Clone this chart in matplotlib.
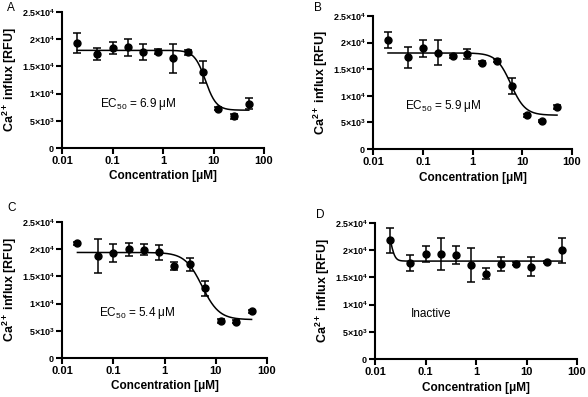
import numpy as np
import matplotlib
matplotlib.use("Agg")
import matplotlib.pyplot as plt
from matplotlib.ticker import FixedLocator, FixedFormatter, NullLocator

plt.rcParams['font.family'] = ['Liberation Sans', 'DejaVu Sans']
plt.rcParams['mathtext.fontset'] = 'custom'
plt.rcParams['mathtext.rm'] = 'Liberation Sans'
plt.rcParams['mathtext.it'] = 'Liberation Sans:italic'
plt.rcParams['mathtext.bf'] = 'Liberation Sans:bold'

conc = [0.02, 0.05, 0.1, 0.2, 0.4, 0.78, 1.56, 3.125, 6.25, 12.5, 25, 50]

mean_A = [19300, 17300, 18400, 18500, 17700, 17700, 16500, 17600, 14000, 7200, 5800, 8100]
err_A = [1900, 1100, 1100, 1600, 1500, 500, 2700, 500, 2000, 300, 400, 1000]
mean_B = [20400, 17200, 18900, 18100, 17400, 17900, 16200, 16600, 11900, 6300, 5300, 7900]
err_B = [1500, 2000, 1600, 2400, 300, 900, 300, 300, 1500, 300, 200, 300]
mean_C = [21100, 18800, 19300, 20000, 19900, 19400, 16900, 17200, 12800, 6800, 6700, 8600]
err_C = [300, 3100, 1700, 1200, 1000, 1300, 800, 1200, 1400, 300, 300, 300]
mean_D = [21800, 17600, 19300, 19300, 19100, 17300, 15700, 17500, 17500, 17000, 17800, 20000]
err_D = [2300, 1500, 1400, 2900, 1600, 3100, 1000, 1300, 300, 1700, 200, 2300]

# fitted sigmoid parameters: top, bottom, EC50, hill
fit_A = [17950, 6950, 6.9, 4.0]
fit_B = [18050, 6350, 5.9, 3.0]
fit_C = [19400, 7050, 5.4, 2.6]
fit_D = [25000, 18000, 0.0205, 10.0]

labels = ["A", "B", "C", "D"]
texts = ["EC$_{50}$ = 6.9 \u03bcM", "EC$_{50}$ = 5.9 \u03bcM", "EC$_{50}$ = 5.4 \u03bcM", "Inactive"]

ytick_vals = [0, 5000, 10000, 15000, 20000, 25000]
ytick_labels = [r"$\mathbf{0}$", r"$\mathbf{5{\times}10^{3}}$", r"$\mathbf{1{\times}10^{4}}$",
                r"$\mathbf{1.5{\times}10^{4}}$", r"$\mathbf{2{\times}10^{4}}$", r"$\mathbf{2.5{\times}10^{4}}$"]
xtick_vals = [0.01, 0.1, 1, 10, 100]
xtick_labels = ["0.01", "0.1", "1", "10", "100"]
ylabel = r"$\mathbf{Ca^{2+}}$ influx [RFU]"

W, H = 588, 397
fig = plt.figure(figsize=(W / 100, H / 100), dpi=100)

# pixel boxes: left, right, top, bottom
boxes = [(62, 264, 12, 148), (373, 572, 16, 149), (62, 267, 222, 358), (375, 577, 223, 359)]
letter_pos = [(7, 8), (314, 8), (7, 208), (316, 215)]
text_pos = [(0.19, 0.32), (0.16, 0.32), (0.18, 0.33), (0.18, 0.33)]

means = [mean_A, mean_B, mean_C, mean_D]
errs = [err_A, err_B, err_C, err_D]
fits = [fit_A, fit_B, fit_C, fit_D]

for i in range(4):
    l, r, t, b = boxes[i]
    ax = fig.add_axes([l / W, 1 - b / H, (r - l) / W, (b - t) / H])
    ax.set_xscale('log')
    ax.set_xlim(0.01, 100)
    ax.set_ylim(0, 25000)
    top, bot, ec, hill = fits[i]
    xs = np.logspace(np.log10(0.02), np.log10(50), 400)
    ys = bot + (top - bot) / (1 + (xs / ec) ** hill)
    ax.plot(xs, ys, color='black', lw=1.1, zorder=2)
    ax.errorbar(conc, means[i], yerr=errs[i], fmt='o', color='black', ms=5,
                capsize=3, elinewidth=1.1, capthick=1.1, zorder=3)
    for s in ['top', 'right']:
        ax.spines[s].set_visible(False)
    for s in ['left', 'bottom']:
        ax.spines[s].set_linewidth(1.5)
    ax.xaxis.set_major_locator(FixedLocator(xtick_vals))
    ax.xaxis.set_major_formatter(FixedFormatter(xtick_labels))
    ax.xaxis.set_minor_locator(NullLocator())
    ax.yaxis.set_major_locator(FixedLocator(ytick_vals))
    ax.yaxis.set_major_formatter(FixedFormatter(ytick_labels))
    ax.tick_params(axis='both', width=1.5, length=4, direction='out')
    ax.tick_params(axis='x', labelsize=8, pad=2)
    ax.tick_params(axis='y', labelsize=6.5, pad=1)
    for lab in ax.get_xticklabels() + ax.get_yticklabels():
        lab.set_fontweight('bold')
    ax.set_xlabel("Concentration [\u03bcM]", fontsize=8.5, fontweight='bold', labelpad=3)
    ax.set_ylabel(ylabel, fontsize=9, fontweight='bold', labelpad=2)
    ax.text(text_pos[i][0], text_pos[i][1], texts[i], transform=ax.transAxes,
            fontsize=8.5, ha='left', va='center')
    fig.text(letter_pos[i][0] / W, 1 - letter_pos[i][1] / H, labels[i],
             fontsize=8.5, ha='left', va='center')

fig.savefig("out.png", dpi=100)
